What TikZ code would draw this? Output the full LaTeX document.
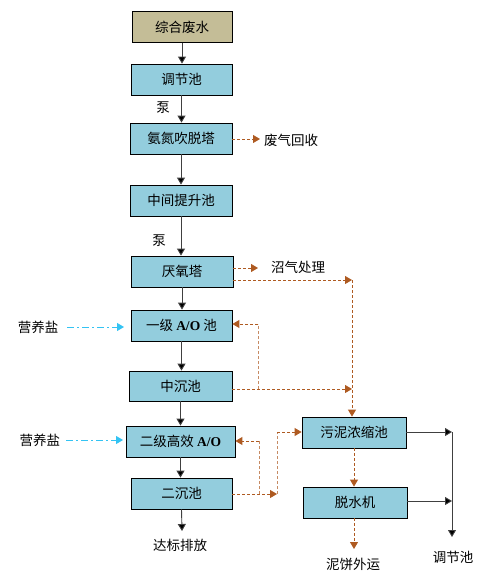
\documentclass[tikz,border=0pt]{standalone}
\usepackage{fontspec}
\setmainfont{Noto Sans CJK SC}
\newfontfamily\latinserif{Liberation Serif}
\usetikzlibrary{arrows.meta}
\definecolor{boxblue}{HTML}{93CDDD}
\definecolor{boxtan}{HTML}{C4BD97}
\definecolor{brn}{HTML}{AE5A21}
\definecolor{cyanline}{HTML}{33C3F3}
\tikzset{
  box/.style={draw=black, line width=0.8pt, fill=boxblue, minimum height=31pt, inner sep=0pt, font=\fontsize{13.5}{15}\selectfont},
  lbl/.style={inner sep=0pt, font=\fontsize{13.5}{15}\selectfont},
  flow/.style={draw=black!75, line width=0.9pt, -{Triangle[length=7pt,width=8pt,fill=black]}},
  sflow/.style={draw=brn, line width=0.9pt, dash pattern=on 3pt off 2pt, -{Triangle[length=7pt,width=8pt]}},
  sline/.style={draw=brn!70, line width=0.9pt, dash pattern=on 3pt off 2pt},
  nflow/.style={draw=cyanline, line width=0.9pt, dash pattern=on 7pt off 3pt on 2pt off 3pt, -{Triangle[length=7pt,width=8pt]}},
}
\begin{document}
\begin{tikzpicture}[x=1pt,y=-1pt]
\path[use as bounding box] (0,0) rectangle (496,586);
% boxes
\node[box, fill=boxtan, minimum width=100pt] (b1) at (182,27) {综合废水};
\node[box, minimum width=101pt] (b2) at (181.5,79.5) {调节池};
\node[box, minimum width=102pt] (b3) at (181,138.5) {氨氮吹脱塔};
\node[box, minimum width=102pt] (b4) at (181,200.5) {中间提升池};
\node[box, minimum width=102pt] (b5) at (182,271.5) {厌氧塔};
\node[box, minimum width=101pt] (b6) at (181.5,325.5) {一级 {\latinserif\bfseries A/O} 池};
\node[box, minimum width=103pt, minimum height=30pt] (b7) at (180.5,386) {中沉池};
\node[box, minimum width=109pt] (b8) at (180.5,441.5) {二级高效 {\latinserif\bfseries A/O}};
\node[box, minimum width=101pt] (b9) at (181.5,493.5) {二沉池};
\node[box, minimum width=104pt] (b10) at (354,432.5) {污泥浓缩池};
\node[box, minimum width=104pt] (b11) at (355,502.5) {脱水机};
% labels
\node[lbl] (p1) at (163,108) {泵};
\node[lbl] (p2) at (159,241) {泵};
\node[lbl] (gas1) at (291,140) {废气回收};
\node[lbl] (gas2) at (298,267) {沼气处理};
\node[lbl] (n1) at (38,327) {营养盐};
\node[lbl] (n2) at (40,440) {营养盐};
\node[lbl] (out) at (180,545) {达标排放};
\node[lbl] (cake) at (353,564) {泥饼外运};
\node[lbl] (ret) at (453,557) {调节池};
% coordinates
\coordinate (g1) at (260,139);
\coordinate (g2) at (258,268);
\coordinate (a5) at (233,280);
\coordinate (c5) at (352,280);
\coordinate (c7) at (352,389);
\coordinate (j7) at (258,389);
\coordinate (k7) at (258,324);
\coordinate (c9) at (277,494);
\coordinate (j9) at (259,494);
\coordinate (k9) at (259,441);
\coordinate (m9) at (277,432);
\coordinate (e11) at (354,549);
\coordinate (r1) at (452,432);
\coordinate (r2) at (452,501);
\coordinate (r3) at (452,537);
\coordinate (o9) at (182,531);
\coordinate (nn1) at (67,327);
\coordinate (ne1) at (124,327);
\coordinate (nn2) at (66,440);
\coordinate (ne2) at (123,440);
% main flow
\draw[flow] (b1.south) -- (b1.south |- b2.north);
\draw[flow] (b2.south) -- (b2.south |- b3.north);
\draw[flow] (b3.south) -- (b3.south |- b4.north);
\draw[flow] (b4.south) -- (b4.south |- b5.north);
\draw[flow] (b5.south) -- (b5.south |- b6.north);
\draw[flow] (b6.south) -- (b6.south |- b7.north);
\draw[flow] (b7.south) -- (b7.south |- b8.north);
\draw[flow] (b8.south) -- (b8.south |- b9.north);
\draw[flow] (b9.south) -- (o9);
% nutrients
\draw[nflow] (nn1) -- (ne1);
\draw[nflow] (nn2) -- (ne2);
% sludge / gas
\draw[sflow] (b3.east |- g1) -- (g1);
\draw[sflow] (b5.east |- g2) -- (g2);
\draw[sflow] (a5) -- (c5);
\draw[sflow] (c5) -- (c5 |- b10.north);
\draw[sflow] (b7.east |- c7) -- (c7);
\draw[sline] (j7) -- (k7);
\draw[sflow] (k7) -- (b6.east |- k7);
\draw[sflow] (b9.east |- c9) -- (c9);
\draw[sline] (j9) -- (k9);
\draw[sflow] (k9) -- (b8.east |- k9);
\draw[sline] (c9) -- (m9);
\draw[sflow] (m9) -- (b10.west |- m9);
\draw[sflow] (b10.south) -- (b10.south |- b11.north);
\draw[sflow] (b11.south -| e11) -- (e11);
% return to regulating pond
\draw[flow] (b10.east |- r1) -- (r1);
\draw[flow] (b11.east |- r2) -- (r2);
\draw[flow] (r1) -- (r3);
\end{tikzpicture}
\end{document}
